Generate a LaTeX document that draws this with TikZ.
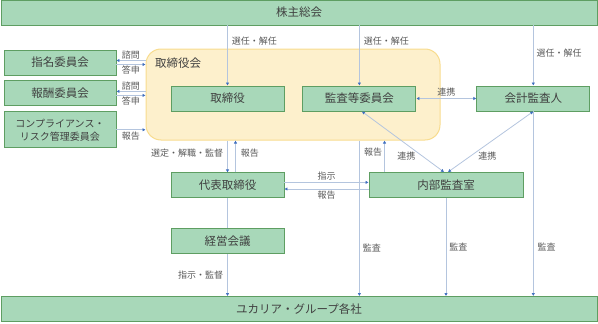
\documentclass[tikz,border=0pt]{standalone}
\usepackage{fontspec}
\setmainfont{Noto Sans CJK JP}
\usetikzlibrary{arrows.meta,positioning,calc}
\definecolor{BoxGreen}{HTML}{A8D8B9}
\definecolor{BorderGreen}{HTML}{5E9E62}
\definecolor{LightYellow}{HTML}{FDF0CC}
\definecolor{BorderYellow}{HTML}{F8DC8E}
\definecolor{LineBlue}{HTML}{B4C5DE}
\definecolor{TipBlue}{HTML}{3F6FC0}
\definecolor{DarkGray}{HTML}{404040}
\definecolor{LabelGray}{HTML}{595959}
\tikzset{
  blk/.style      = {draw=BorderGreen, fill=BoxGreen, align=center, line width=0.9pt,
                     font=\fontsize{11.5}{13}\selectfont, text=DarkGray,
                     minimum height=25pt, minimum width=113pt, inner sep=2pt},
  blkbar/.style   = {blk, minimum width=596pt, minimum height=25pt},
  blkiin/.style   = {blk, minimum width=112pt},
  torikai/.style  = {draw=BorderYellow, fill=LightYellow, rounded corners=15pt,
                     line width=1pt, minimum width=294pt, minimum height=91pt},
  titulo/.style   = {font=\fontsize{11.5}{13}\selectfont, text=DarkGray, inner sep=0pt},
  flecha/.style   = {-{Latex[length=3pt,width=3.5pt,color=TipBlue]}, draw=LineBlue, line width=0.8pt},
  flechab/.style  = {{Latex[length=3pt,width=3.5pt,color=TipBlue]}-{Latex[length=3pt,width=3.5pt,color=TipBlue]},
                     draw=LineBlue, line width=0.8pt},
  senda/.style    = {draw=LineBlue, line width=0.8pt},
  lbl/.style      = {font=\fontsize{9}{10}\selectfont, text=LabelGray, inner sep=1pt},
}
\begin{document}
\begin{tikzpicture}[x=1pt, y=-1pt, node distance=18pt and 18pt]
  \useasboundingbox (0,0) rectangle (598,324);
  \node[torikai] (tkai) at (293,94.5) {};
  \node[titulo, anchor=west] (tkailbl) at (155,63) {取締役会};
  \node[blkbar] (kabu) at (299,12.5) {株主総会};
  \node[blk] (tori) at (227.5,98.5) {取締役};
  \node[blk, right=18pt of tori] (kansa) {監査等委員会};
  \node[blk, right=60pt of kansa] (kaikei) {会計監査人};
  \node[blk, below=61pt of tori] (daihyo) {代表取締役};
  \node[blk, below=30pt of daihyo] (keiei) {経営会議};
  \node[blk, minimum width=154pt] (naibu) at (446,185) {内部監査室};
  \node[blkbar] (kaisha) at (299,309) {ユカリア・グループ各社};
  \node[blkiin] (shimei) at (60,62.5) {指名委員会};
  \node[blkiin, below=5pt of shimei] (hoshu) {報酬委員会};
  \node[blkiin, below=5pt of hoshu, minimum height=36pt,
        font=\fontsize{10}{13}\selectfont] (comp) {コンプライアンス・\\リスク管理委員会};

  \draw[flecha] (kabu.south -| tori) -- node[lbl, right=3pt, pos=0.26] {選任・解任} (tori);
  \draw[flecha] (kabu.south -| kansa) -- node[lbl, right=3pt, pos=0.26] {選任・解任} (kansa);
  \draw[flecha] (kabu.south -| kaikei) -- node[lbl, right=2pt, pos=0.46] {選任・解任} (kaikei);
  \draw[flechab] (kansa) -- node[lbl, above=1pt] {連携} (kaikei);

  \draw[flecha] ([yshift=2pt]tkai.west |- shimei.east) -- node[lbl, above] {諮問} ([yshift=2pt]shimei.east);
  \draw[flecha] ([yshift=-2pt]shimei.east) -- node[lbl, below] {答申} ([yshift=-2pt]tkai.west |- shimei.east);
  \draw[flecha] ([yshift=2pt]tkai.west |- hoshu.east) -- node[lbl, above] {諮問} ([yshift=2pt]hoshu.east);
  \draw[flecha] ([yshift=-2pt]hoshu.east) -- node[lbl, below] {答申} ([yshift=-2pt]tkai.west |- hoshu.east);
  \draw[flecha] (comp) -- node[lbl, below=1pt] {報告} (comp -| tkai.west);

  \draw[flecha] (tkai.south -| daihyo) -- node[lbl, left=3pt, pos=0.4] {選定・解職・監督} (daihyo);
  \draw[flecha] ([xshift=8pt]daihyo.north) -- node[lbl, right=4pt, pos=0.6] {報告} ([xshift=8pt]daihyo.north |- tkai.south);
  \draw[flecha] ([yshift=3pt]daihyo.east) -- node[lbl, above=1pt] {指示} ([yshift=3pt]daihyo.east -| naibu.west);
  \draw[flecha] ([yshift=-4pt]naibu.west) -- node[lbl, below=1pt] {報告} ([yshift=-4pt]naibu.west -| daihyo.east);
  \draw[senda] (daihyo) -- (keiei);
  \draw[flecha] (keiei) -- node[lbl, left=3pt] {指示・監督} (keiei |- kaisha.north);

  \draw[flecha] (tkai.south -| kansa) -- node[lbl, right=2pt, pos=0.69] {監査} (kansa |- kaisha.north);
  \draw[flecha] ([xshift=16pt]naibu.north west) -- node[lbl, left=1pt, pos=0.62] {報告} ([xshift=16pt]naibu.north west |- tkai.south);
  \draw[flechab] ([xshift=2.5pt]kansa.south) -- node[lbl, left=5pt, pos=0.73] {連携} ([xshift=-2pt]naibu.north);
  \draw[flechab] (kaikei.south) -- node[lbl, right=6pt, pos=0.73] {連携} ([xshift=2pt]naibu.north);
  \draw[flecha] (naibu) -- node[lbl, right=2pt] {監査} (naibu |- kaisha.north);
  \draw[flecha] (kaikei) -- node[lbl, right=3pt, pos=0.735] {監査} (kaikei |- kaisha.north);
\end{tikzpicture}
\end{document}
